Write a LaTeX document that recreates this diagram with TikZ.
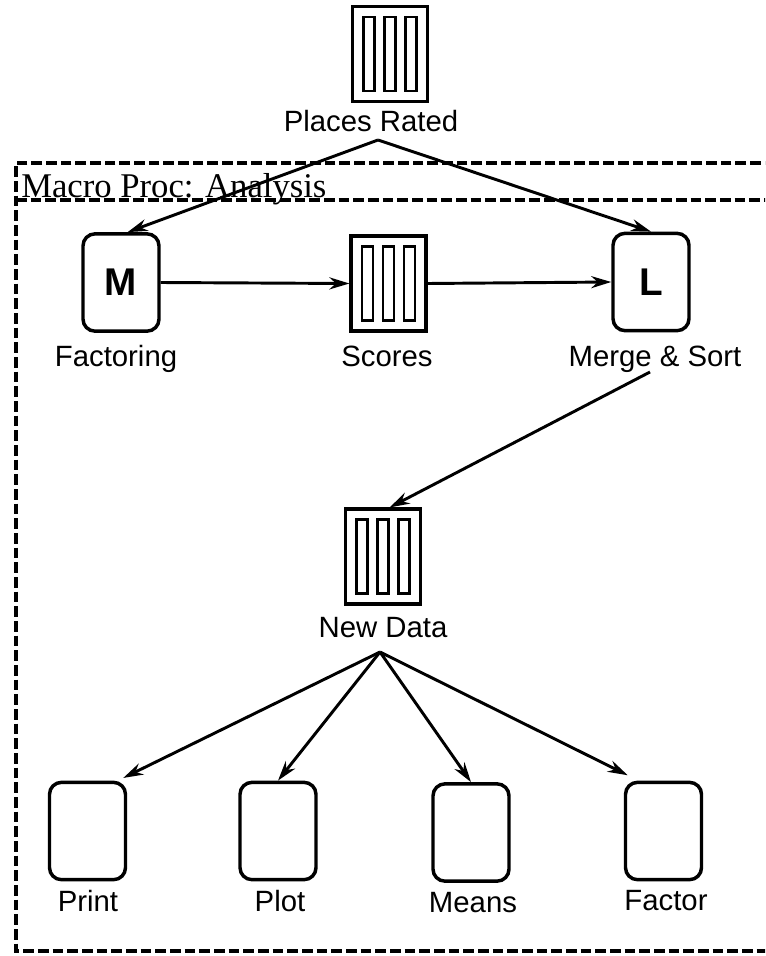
\documentclass[tikz,border=0pt]{standalone}
\usepackage{fontspec}
\setmainfont{Liberation Sans}
\newfontfamily\titlefont{Liberation Serif}
\usetikzlibrary{arrows.meta}
\begin{document}
\begin{tikzpicture}[x=0.75pt,y=-0.75pt,
  proc/.style={draw,line width=2.6pt,rounded corners=9pt,minimum width=57pt,minimum height=73pt,inner sep=0pt,font=\fontsize{29}{30}\selectfont\bfseries},
  store/.style={draw,line width=2.6pt,minimum width=56pt,minimum height=71pt,inner sep=0pt,
    path picture={\foreach \dx in {-21,0,21}{\draw[line width=2.2pt] ([shift={(\dx-5.5,-37)}]path picture bounding box.center) rectangle ([shift={(\dx+5.5,37)}]path picture bounding box.center);}}},
  lbl/.style={anchor=base,inner sep=0pt,font=\fontsize{22}{26}\selectfont},
  flow/.style={line width=2.2pt,-{Stealth[length=15pt,width=9pt]}},
  frame/.style={line width=2.8pt,dash pattern=on 8pt off 3pt}]
\useasboundingbox (0,0) rectangle (765,956);
\clip (0,0) rectangle (765,956);
% frame
\draw[frame] (790,163) -- (16,163) -- (16,951) -- (790,951);
\draw[frame] (16,200) -- (790,200);
\node[anchor=base west,inner sep=0pt,font=\titlefont\fontsize{26}{28}\selectfont] (title) at (21,197) {Macro Proc: Analysis};
% stores
\node[store] (pr) at (390,54) {};
\node[lbl] (prl) at (371,131) {Places Rated};
\node[store] (sc) at (388.5,283.5) {};
\node[lbl] (scl) at (387,366) {Scores};
\node[store] (nd) at (383,556.5) {};
\node[lbl] (ndl) at (383,637) {New Data};
% processes
\node[proc] (m) at (121,282.5) {M};
\node[lbl] (ml) at (116,366) {Factoring};
\node[proc] (l) at (651,282) {L};
\node[lbl] (ll) at (655,366) {Merge \& Sort};
\node[proc] (pt) at (87.5,831) {};
\node[lbl] (ptl) at (88,911) {Print};
\node[proc] (pl) at (278,831) {};
\node[lbl] (pll) at (280,911) {Plot};
\node[proc] (mn) at (471,832.5) {};
\node[lbl] (mnl) at (473,912) {Means};
\node[proc] (fc) at (663.5,831) {};
\node[lbl] (fcl) at (666,910) {Factor};
% apexes
\coordinate (pra) at (378,140);
\coordinate (msa) at (650,372);
\coordinate (nda) at (380,652);
% connectors
\draw[flow] (pra) -- ([xshift=5]m.north);
\draw[flow] (pra) -- (l.north);
\draw[flow] (m.east) -- (sc.west);
\draw[flow] (sc.east) -- (l.west);
\draw[flow] (msa) -- ([xshift=5]nd.north);
\draw[flow] (nda) -- ([xshift=-3,yshift=2]pt.north east);
\draw[flow] (nda) -- (pl.north);
\draw[flow] (nda) -- (mn.north);
\draw[flow] (nda) -- ([xshift=3,yshift=4]fc.north west);
\end{tikzpicture}
\end{document}
